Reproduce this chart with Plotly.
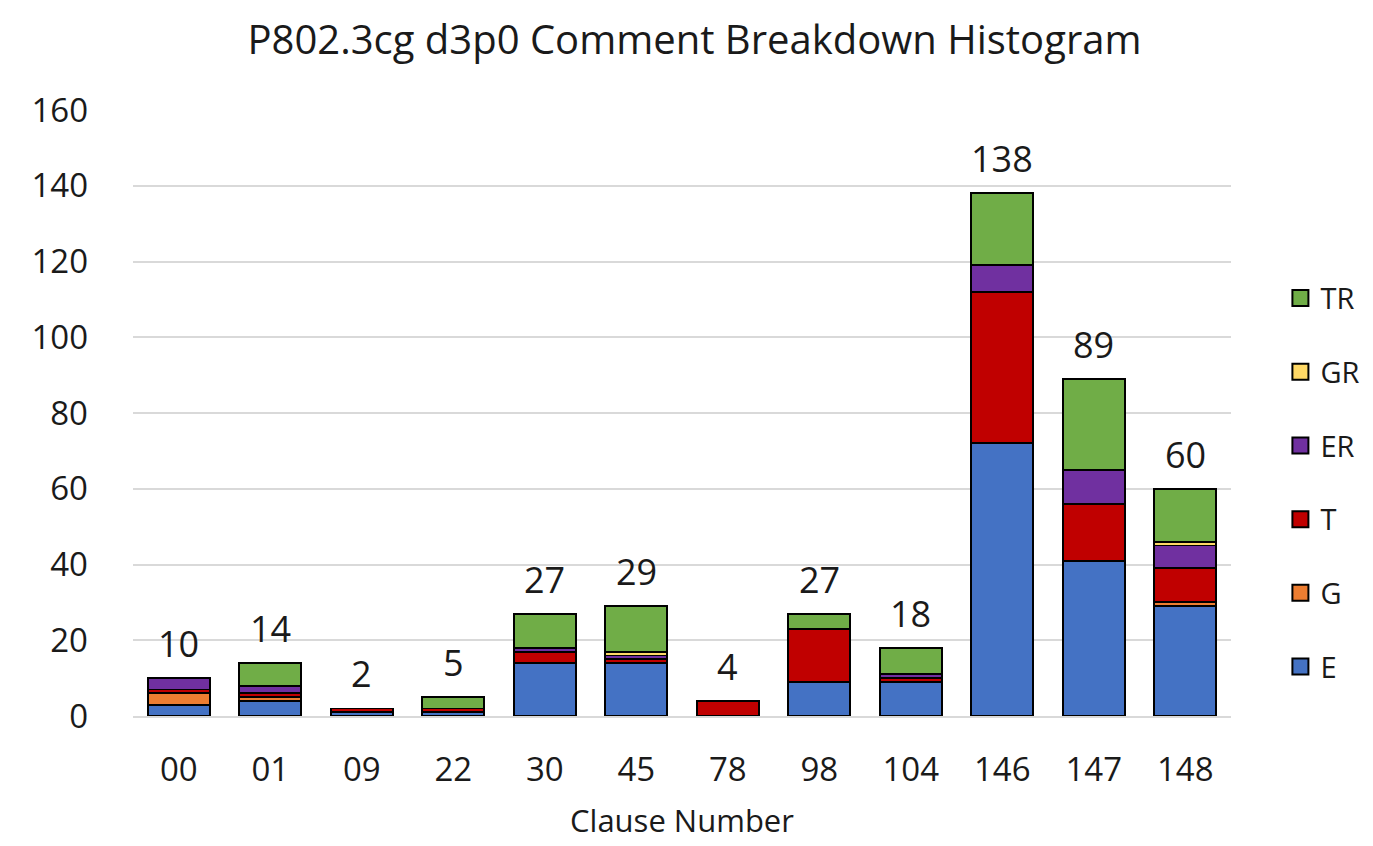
import plotly.graph_objects as go

clauses = ["00", "01", "09", "22", "30", "45", "78", "98", "104", "146", "147", "148"]
E  = [3, 4, 1, 1, 14, 14, 0, 9, 9, 72, 41, 29]
G  = [3, 1, 0, 0, 0, 0, 0, 0, 0, 0, 0, 1]
T  = [1, 1, 1, 1, 3, 1, 4, 14, 1, 40, 15, 9]
ER = [3, 2, 0, 0, 1, 1, 0, 0, 1, 7, 9, 6]
GR = [0, 0, 0, 0, 0, 1, 0, 0, 0, 0, 0, 1]
TR = [0, 6, 0, 3, 9, 12, 0, 4, 7, 19, 24, 14]

series = [
    ("E", E, "#4472C4"),
    ("G", G, "#ED7D31"),
    ("T", T, "#C00000"),
    ("ER", ER, "#7030A0"),
    ("GR", GR, "#FFD966"),
    ("TR", TR, "#70AD47"),
]

font = "Open Sans, Noto Sans, sans-serif"
txt = "#1a1a1a"

fig = go.Figure()
for i, (name, vals, color) in enumerate(series):
    fig.add_trace(go.Bar(
        name=name, x=clauses, y=vals, legendgroup=name, showlegend=False,
        marker=dict(color=color, line=dict(color="black", width=1.8)),
    ))
    # legend proxy with a larger square swatch
    fig.add_trace(go.Scatter(
        name=name, x=[None], y=[None], mode="markers", legendgroup=name,
        legendrank=100 - i,
        marker=dict(symbol="square", size=23, color=color, line=dict(color="black", width=2)),
    ))

totals = [sum(v) for v in zip(E, G, T, ER, GR, TR)]
for idx, t in enumerate(totals):
    # category axes place annotations by category index
    fig.add_annotation(x=idx, y=t, text=str(t), showarrow=False, yanchor="bottom",
                       yshift=8, font=dict(size=36, color=txt, family=font))

fig.update_layout(
    barmode="stack",
    bargap=0.32,
    width=1373, height=846,
    margin=dict(l=125, r=150, t=102, b=138),
    plot_bgcolor="white", paper_bgcolor="white",
    font=dict(family=font, color=txt),
    title=dict(text="P802.3cg d3p0 Comment Breakdown Histogram", x=0.5, xanchor="center",
               y=0.962, yanchor="middle", font=dict(size=40, color=txt, family=font)),
    legend=dict(tracegroupgap=33, x=1.045, xanchor="left",
                y=0.385, yanchor="middle", font=dict(size=29, color=txt, family=font),
                itemwidth=30),
    xaxis=dict(type="category", categoryorder="array", categoryarray=clauses,
               range=[-0.5, len(clauses) - 0.5],
               tickfont=dict(size=33, color=txt), showline=True, tickangle=0,
               linecolor="#D9D9D9", linewidth=1.5,
               title=dict(text="Clause Number", font=dict(size=31, color=txt), standoff=20),
               ticks=""),
    yaxis=dict(range=[0, 160], dtick=20, tickfont=dict(size=33, color=txt),
               gridcolor="#D9D9D9", gridwidth=1.5, zeroline=False, ticks="", ticklen=0,
               automargin=False),
)
fig.update_xaxes(ticklabelstandoff=24)
fig.update_yaxes(ticklabelstandoff=44)

fig.write_html("out.html")
